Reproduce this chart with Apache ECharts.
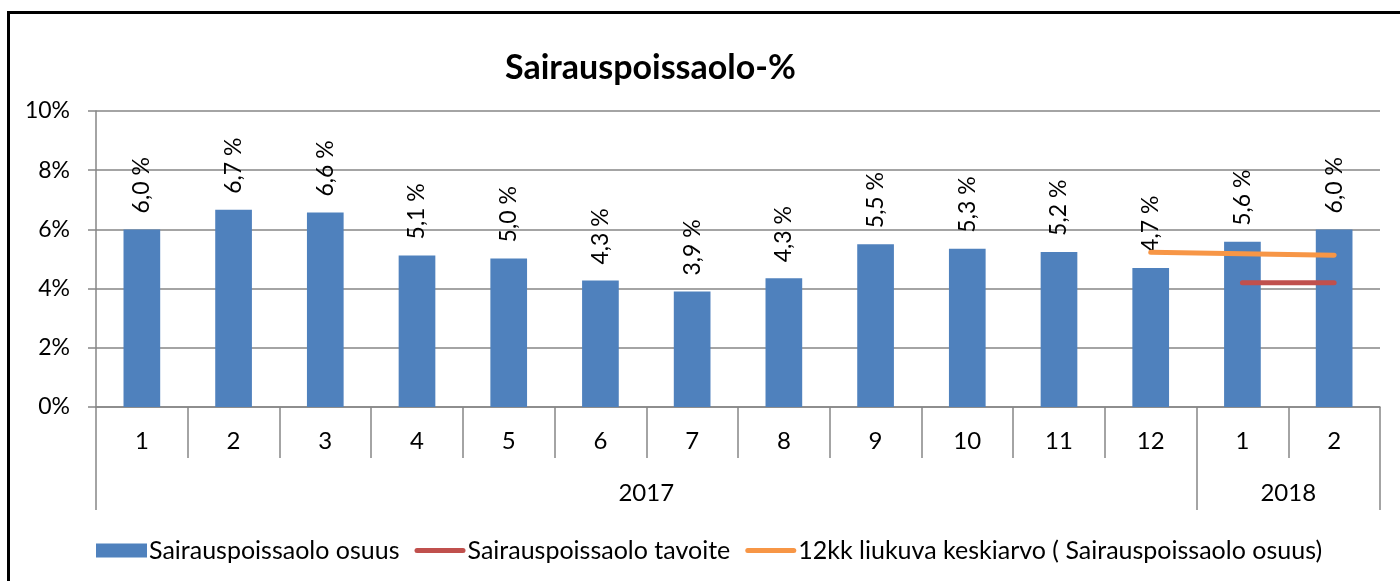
<!DOCTYPE html>
<html>
<head>
<meta charset="utf-8">
<script src="https://cdn.jsdelivr.net/npm/echarts@6/dist/echarts.min.js"></script>
<style>
  html, body { margin: 0; padding: 0; background: #fff; overflow: hidden; }
  #frame { position: absolute; left: 7px; top: 11px; width: 1420px; height: 600px; border: 3px solid #000; }
  #main { position: absolute; left: 0; top: 0; width: 1400px; height: 581px; }
</style>
</head>
<body>
<div id="frame"></div>
<div id="main"></div>
<script>
// kuukaudet ja vuodet
const months = ['1', '2', '3', '4', '5', '6', '7', '8', '9', '10', '11', '12', '1', '2'];
const years = ['2017', '2018'];
const yearCenters = [6, 13];
const yearBounds = [0, 12, 14];
// arvot prosentteina
const osuus = [6.0, 6.66, 6.57, 5.12, 5.02, 4.27, 3.9, 4.35, 5.5, 5.35, 5.24, 4.7, 5.58, 6.0];
const tavoite = [null, null, null, null, null, null, null, null, null, null, null, null, 4.2, 4.2];
const keskiarvo = [null, null, null, null, null, null, null, null, null, null, null, 5.23, 5.18, 5.13];
const yTicks = [0, 2, 4, 6, 8, 10];

const font = 'Lato';
const gridColor = '#868686';
const lineIcon = 'path://M2.5,0 H48.5 A2.5,2.5 0 0 1 48.5,5 H2.5 A2.5,2.5 0 0 1 2.5,0 Z';

let chart = echarts.init(document.getElementById('main'));
let option = {
  animation: false,
  textStyle: { fontFamily: font, color: '#000' },
  title: {
    text: 'Sairauspoissaolo-%',
    left: 500,
    top: 46,
    textStyle: { fontSize: 34, fontWeight: 'bold', fontFamily: font, color: '#000' }
  },
  legend: {
    left: 96,
    top: 538,
    padding: 0,
    itemGap: 15,
    itemWidth: 51,
    itemHeight: 14,
    textStyle: { fontSize: 25, color: '#000', padding: [0, 0, 0, -3] },
    data: [
      { name: 'Sairauspoissaolo osuus', icon: 'rect' },
      { name: 'Sairauspoissaolo tavoite', icon: lineIcon },
      { name: '12kk liukuva keskiarvo ( Sairauspoissaolo osuus)', icon: lineIcon }
    ]
  },
  grid: { left: 96, right: 20, top: 111, bottom: 174 },
  xAxis: [
    {
      type: 'category',
      data: months,
      position: 'bottom',
      axisLine: { lineStyle: { color: gridColor, width: 1.5 } },
      axisTick: { show: true, interval: 0, length: 51, lineStyle: { color: gridColor, width: 1.5 } },
      axisLabel: { interval: 0, margin: 22, fontSize: 24, color: '#000' }
    },
    {
      type: 'value',
      min: 0,
      max: 14,
      position: 'bottom',
      axisLine: { show: false },
      splitLine: { show: false },
      axisTick: { show: true, length: 103, customValues: yearBounds, lineStyle: { color: gridColor, width: 1.5 } },
      axisLabel: {
        customValues: yearCenters,
        margin: 74,
        fontSize: 24,
        color: '#000',
        formatter: function (v) { return years[yearCenters.indexOf(v)]; }
      }
    }
  ],
  yAxis: {
    type: 'value',
    min: 0,
    max: 10,
    interval: 2,
    axisLine: { show: true, lineStyle: { color: gridColor, width: 1.5 } },
    axisTick: { show: true, length: 8, lineStyle: { color: gridColor, width: 1.5 } },
    splitLine: { lineStyle: { color: gridColor, width: 1.5 } },
    axisLabel: {
      margin: 26,
      fontSize: 23,
      color: '#000',
      customValues: yTicks,
      formatter: '{value}%'
    }
  },
  series: [
    {
      name: 'Sairauspoissaolo osuus',
      type: 'bar',
      data: osuus,
      barWidth: '40%',
      itemStyle: { color: '#4F81BD' },
      label: {
        show: true,
        position: 'top',
        rotate: 90,
        align: 'left',
        verticalAlign: 'middle',
        distance: 16,
        fontSize: 23,
        color: '#000',
        formatter: function (p) { return p.value.toFixed(1).replace('.', ',') + ' %'; }
      }
    },
    {
      name: 'Sairauspoissaolo tavoite',
      type: 'line',
      data: tavoite,
      symbol: 'none',
      itemStyle: { color: '#C0504D' },
      lineStyle: { color: '#C0504D', width: 5, cap: 'round' }
    },
    {
      name: '12kk liukuva keskiarvo ( Sairauspoissaolo osuus)',
      type: 'line',
      data: keskiarvo,
      symbol: 'none',
      itemStyle: { color: '#F79646' },
      lineStyle: { color: '#F79646', width: 5, cap: 'round' }
    }
  ]
};
chart.setOption(option);
</script>
</body>
</html>
